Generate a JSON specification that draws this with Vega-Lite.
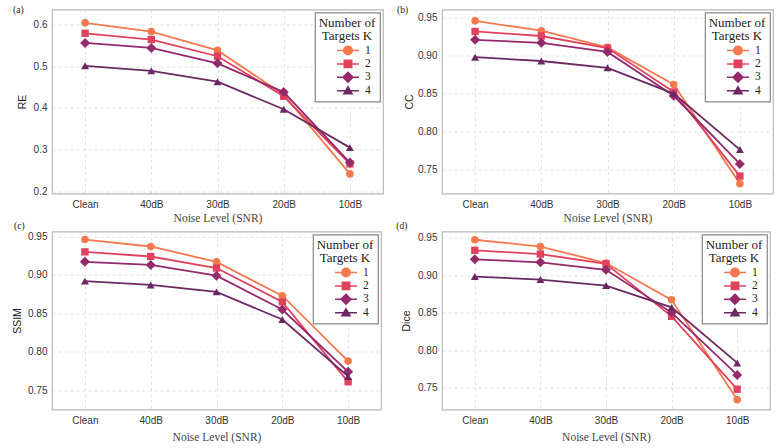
{
  "$schema": "https://vega.github.io/schema/vega-lite/v6.json",
  "background": "white",
  "padding": {"left": 12, "top": 3.5, "right": 4, "bottom": 2},
  "datasets": {
    "scores": [
      {"metric": "RE", "K": "1", "snr": "Clean", "value": 0.604},
      {"metric": "RE", "K": "1", "snr": "40dB", "value": 0.583},
      {"metric": "RE", "K": "1", "snr": "30dB", "value": 0.538},
      {"metric": "RE", "K": "1", "snr": "20dB", "value": 0.432},
      {"metric": "RE", "K": "1", "snr": "10dB", "value": 0.242},
      {"metric": "RE", "K": "2", "snr": "Clean", "value": 0.579},
      {"metric": "RE", "K": "2", "snr": "40dB", "value": 0.564},
      {"metric": "RE", "K": "2", "snr": "30dB", "value": 0.524},
      {"metric": "RE", "K": "2", "snr": "20dB", "value": 0.428},
      {"metric": "RE", "K": "2", "snr": "10dB", "value": 0.266},
      {"metric": "RE", "K": "3", "snr": "Clean", "value": 0.556},
      {"metric": "RE", "K": "3", "snr": "40dB", "value": 0.544},
      {"metric": "RE", "K": "3", "snr": "30dB", "value": 0.507},
      {"metric": "RE", "K": "3", "snr": "20dB", "value": 0.438},
      {"metric": "RE", "K": "3", "snr": "10dB", "value": 0.269},
      {"metric": "RE", "K": "4", "snr": "Clean", "value": 0.501},
      {"metric": "RE", "K": "4", "snr": "40dB", "value": 0.489},
      {"metric": "RE", "K": "4", "snr": "30dB", "value": 0.463},
      {"metric": "RE", "K": "4", "snr": "20dB", "value": 0.397},
      {"metric": "RE", "K": "4", "snr": "10dB", "value": 0.305},
      {"metric": "CC", "K": "1", "snr": "Clean", "value": 0.946},
      {"metric": "CC", "K": "1", "snr": "40dB", "value": 0.933},
      {"metric": "CC", "K": "1", "snr": "30dB", "value": 0.911},
      {"metric": "CC", "K": "1", "snr": "20dB", "value": 0.862},
      {"metric": "CC", "K": "1", "snr": "10dB", "value": 0.731},
      {"metric": "CC", "K": "2", "snr": "Clean", "value": 0.932},
      {"metric": "CC", "K": "2", "snr": "40dB", "value": 0.926},
      {"metric": "CC", "K": "2", "snr": "30dB", "value": 0.910},
      {"metric": "CC", "K": "2", "snr": "20dB", "value": 0.852},
      {"metric": "CC", "K": "2", "snr": "10dB", "value": 0.741},
      {"metric": "CC", "K": "3", "snr": "Clean", "value": 0.921},
      {"metric": "CC", "K": "3", "snr": "40dB", "value": 0.917},
      {"metric": "CC", "K": "3", "snr": "30dB", "value": 0.905},
      {"metric": "CC", "K": "3", "snr": "20dB", "value": 0.847},
      {"metric": "CC", "K": "3", "snr": "10dB", "value": 0.757},
      {"metric": "CC", "K": "4", "snr": "Clean", "value": 0.898},
      {"metric": "CC", "K": "4", "snr": "40dB", "value": 0.893},
      {"metric": "CC", "K": "4", "snr": "30dB", "value": 0.884},
      {"metric": "CC", "K": "4", "snr": "20dB", "value": 0.850},
      {"metric": "CC", "K": "4", "snr": "10dB", "value": 0.776},
      {"metric": "SSIM", "K": "1", "snr": "Clean", "value": 0.946},
      {"metric": "SSIM", "K": "1", "snr": "40dB", "value": 0.937},
      {"metric": "SSIM", "K": "1", "snr": "30dB", "value": 0.917},
      {"metric": "SSIM", "K": "1", "snr": "20dB", "value": 0.873},
      {"metric": "SSIM", "K": "1", "snr": "10dB", "value": 0.788},
      {"metric": "SSIM", "K": "2", "snr": "Clean", "value": 0.930},
      {"metric": "SSIM", "K": "2", "snr": "40dB", "value": 0.924},
      {"metric": "SSIM", "K": "2", "snr": "30dB", "value": 0.909},
      {"metric": "SSIM", "K": "2", "snr": "20dB", "value": 0.865},
      {"metric": "SSIM", "K": "2", "snr": "10dB", "value": 0.761},
      {"metric": "SSIM", "K": "3", "snr": "Clean", "value": 0.917},
      {"metric": "SSIM", "K": "3", "snr": "40dB", "value": 0.913},
      {"metric": "SSIM", "K": "3", "snr": "30dB", "value": 0.899},
      {"metric": "SSIM", "K": "3", "snr": "20dB", "value": 0.855},
      {"metric": "SSIM", "K": "3", "snr": "10dB", "value": 0.774},
      {"metric": "SSIM", "K": "4", "snr": "Clean", "value": 0.892},
      {"metric": "SSIM", "K": "4", "snr": "40dB", "value": 0.887},
      {"metric": "SSIM", "K": "4", "snr": "30dB", "value": 0.878},
      {"metric": "SSIM", "K": "4", "snr": "20dB", "value": 0.842},
      {"metric": "SSIM", "K": "4", "snr": "10dB", "value": 0.768},
      {"metric": "Dice", "K": "1", "snr": "Clean", "value": 0.947},
      {"metric": "Dice", "K": "1", "snr": "40dB", "value": 0.938},
      {"metric": "Dice", "K": "1", "snr": "30dB", "value": 0.916},
      {"metric": "Dice", "K": "1", "snr": "20dB", "value": 0.867},
      {"metric": "Dice", "K": "1", "snr": "10dB", "value": 0.734},
      {"metric": "Dice", "K": "2", "snr": "Clean", "value": 0.933},
      {"metric": "Dice", "K": "2", "snr": "40dB", "value": 0.928},
      {"metric": "Dice", "K": "2", "snr": "30dB", "value": 0.915},
      {"metric": "Dice", "K": "2", "snr": "20dB", "value": 0.845},
      {"metric": "Dice", "K": "2", "snr": "10dB", "value": 0.748},
      {"metric": "Dice", "K": "3", "snr": "Clean", "value": 0.921},
      {"metric": "Dice", "K": "3", "snr": "40dB", "value": 0.917},
      {"metric": "Dice", "K": "3", "snr": "30dB", "value": 0.907},
      {"metric": "Dice", "K": "3", "snr": "20dB", "value": 0.850},
      {"metric": "Dice", "K": "3", "snr": "10dB", "value": 0.767},
      {"metric": "Dice", "K": "4", "snr": "Clean", "value": 0.898},
      {"metric": "Dice", "K": "4", "snr": "40dB", "value": 0.894},
      {"metric": "Dice", "K": "4", "snr": "30dB", "value": 0.886},
      {"metric": "Dice", "K": "4", "snr": "20dB", "value": 0.857},
      {"metric": "Dice", "K": "4", "snr": "10dB", "value": 0.783}
    ]
  },
  "data": {"name": "scores"},
  "bounds": "flush",
  "columns": 2,
  "spacing": {"row": 38, "column": 59},
  "resolve": {"scale": {"fill": "independent", "stroke": "independent", "shape": "independent"}},
  "concat": [
    {
      "width": 331, "height": 184,
      "title": {"text": "(a)", "dx": -39, "dy": 9},
      "transform": [{"filter": "datum.metric === 'RE'"}],
      "encoding": {
        "x": {"field": "snr", "type": "ordinal", "scale": {"type": "point", "domain": ["Clean", "40dB", "30dB", "20dB", "10dB"], "padding": 0.5}, "axis": {"title": "Noise Level (SNR)", "titlePadding": 2.5}},
        "y": {"field": "value", "type": "quantitative", "scale": {"domain": [0.195, 0.636], "nice": false, "zero": false}, "axis": {"title": "RE", "values": [0.2, 0.3, 0.4, 0.5, 0.6], "format": ".1f", "titleX": -26.5}}
      },
      "layer": [
        {"transform": [{"filter": "datum.K === '1'"}], "layer": [
          {"mark": {"type": "line", "color": "#f4794e", "strokeWidth": 1.8}},
          {"mark": {"type": "point", "shape": "circle", "filled": true, "opacity": 1, "color": "#f4794e", "size": 57}}]},
        {"transform": [{"filter": "datum.K === '2'"}], "layer": [
          {"mark": {"type": "line", "color": "#e0425e", "strokeWidth": 1.8}},
          {"mark": {"type": "point", "shape": "square", "filled": true, "opacity": 1, "color": "#e0425e", "size": 54}}]},
        {"transform": [{"filter": "datum.K === '3'"}], "layer": [
          {"mark": {"type": "line", "color": "#94296b", "strokeWidth": 1.8}},
          {"mark": {"type": "point", "shape": "diamond", "filled": true, "opacity": 1, "color": "#94296b", "size": 100}}]},
        {"transform": [{"filter": "datum.K === '4'"}], "layer": [
          {"mark": {"type": "line", "color": "#6c2862", "strokeWidth": 1.8}},
          {"mark": {"type": "point", "shape": "triangle-up", "filled": true, "opacity": 1, "color": "#6c2862", "size": 64}}]},
        {"transform": [{"filter": "false"}],
         "mark": {"type": "point", "filled": true, "opacity": 1},
         "encoding": {
           "fill": {"field": "K", "type": "nominal", "scale": {"domain": ["1", "2", "3", "4"], "range": ["#f4794e", "#e0425e", "#94296b", "#6c2862"]}, "legend": {"title": ["Number of", "Targets K"], "orient": "top-right", "offset": 3}},
           "stroke": {"field": "K", "type": "nominal", "scale": {"domain": ["1", "2", "3", "4"], "range": ["#f4794e", "#e0425e", "#94296b", "#6c2862"]}, "legend": {"title": ["Number of", "Targets K"], "orient": "top-right", "offset": 3}},
           "shape": {"field": "K", "type": "nominal", "scale": {"domain": ["1", "2", "3", "4"], "range": ["M-2.2,0H2.2M0.85,0A0.85,0.85,0,1,1,-0.85,0A0.85,0.85,0,1,1,0.85,0Z", "M-2.2,0H2.2M-0.74,-0.74H0.74V0.74H-0.74Z", "M-2.2,0H2.2M-1,0L0,-1L1,0L0,1Z", "M-2.2,0H2.2M0,-0.78L0.82,0.62H-0.82Z"]}, "legend": {"title": ["Number of", "Targets K"], "orient": "top-right", "offset": 3}}
         }}
      ]
    },
    {
      "width": 331, "height": 184,
      "title": {"text": "(b)", "dx": -45, "dy": 9},
      "transform": [{"filter": "datum.metric === 'CC'"}],
      "encoding": {
        "x": {"field": "snr", "type": "ordinal", "scale": {"type": "point", "domain": ["Clean", "40dB", "30dB", "20dB", "10dB"], "padding": 0.5}, "axis": {"title": "Noise Level (SNR)", "titlePadding": 2.5}},
        "y": {"field": "value", "type": "quantitative", "scale": {"domain": [0.718, 0.961], "nice": false, "zero": false}, "axis": {"title": "CC", "values": [0.75, 0.8, 0.85, 0.9, 0.95], "format": ".2f", "titleX": -30}}
      },
      "layer": [
        {"transform": [{"filter": "datum.K === '1'"}], "layer": [
          {"mark": {"type": "line", "color": "#f4794e", "strokeWidth": 1.8}},
          {"mark": {"type": "point", "shape": "circle", "filled": true, "opacity": 1, "color": "#f4794e", "size": 57}}]},
        {"transform": [{"filter": "datum.K === '2'"}], "layer": [
          {"mark": {"type": "line", "color": "#e0425e", "strokeWidth": 1.8}},
          {"mark": {"type": "point", "shape": "square", "filled": true, "opacity": 1, "color": "#e0425e", "size": 54}}]},
        {"transform": [{"filter": "datum.K === '3'"}], "layer": [
          {"mark": {"type": "line", "color": "#94296b", "strokeWidth": 1.8}},
          {"mark": {"type": "point", "shape": "diamond", "filled": true, "opacity": 1, "color": "#94296b", "size": 100}}]},
        {"transform": [{"filter": "datum.K === '4'"}], "layer": [
          {"mark": {"type": "line", "color": "#6c2862", "strokeWidth": 1.8}},
          {"mark": {"type": "point", "shape": "triangle-up", "filled": true, "opacity": 1, "color": "#6c2862", "size": 64}}]},
        {"transform": [{"filter": "false"}],
         "mark": {"type": "point", "filled": true, "opacity": 1},
         "encoding": {
           "fill": {"field": "K", "type": "nominal", "scale": {"domain": ["1", "2", "3", "4"], "range": ["#f4794e", "#e0425e", "#94296b", "#6c2862"]}, "legend": {"title": ["Number of", "Targets K"], "orient": "top-right", "offset": 3}},
           "stroke": {"field": "K", "type": "nominal", "scale": {"domain": ["1", "2", "3", "4"], "range": ["#f4794e", "#e0425e", "#94296b", "#6c2862"]}, "legend": {"title": ["Number of", "Targets K"], "orient": "top-right", "offset": 3}},
           "shape": {"field": "K", "type": "nominal", "scale": {"domain": ["1", "2", "3", "4"], "range": ["M-2.2,0H2.2M0.85,0A0.85,0.85,0,1,1,-0.85,0A0.85,0.85,0,1,1,0.85,0Z", "M-2.2,0H2.2M-0.74,-0.74H0.74V0.74H-0.74Z", "M-2.2,0H2.2M-1,0L0,-1L1,0L0,1Z", "M-2.2,0H2.2M0,-0.78L0.82,0.62H-0.82Z"]}, "legend": {"title": ["Number of", "Targets K"], "orient": "top-right", "offset": 3}}
         }}
      ]
    },
    {
      "width": 329, "height": 178,
      "title": {"text": "(c)", "dx": -38, "dy": 3.3},
      "transform": [{"filter": "datum.metric === 'SSIM'"}],
      "encoding": {
        "x": {"field": "snr", "type": "ordinal", "scale": {"type": "point", "domain": ["Clean", "40dB", "30dB", "20dB", "10dB"], "padding": 0.5}, "axis": {"title": "Noise Level (SNR)", "titlePadding": 5.5}},
        "y": {"field": "value", "type": "quantitative", "scale": {"domain": [0.725, 0.9565], "nice": false, "zero": false}, "axis": {"title": "SSIM", "values": [0.75, 0.8, 0.85, 0.9, 0.95], "format": ".2f", "titleX": -31.3}}
      },
      "layer": [
        {"transform": [{"filter": "datum.K === '1'"}], "layer": [
          {"mark": {"type": "line", "color": "#f4794e", "strokeWidth": 1.8}},
          {"mark": {"type": "point", "shape": "circle", "filled": true, "opacity": 1, "color": "#f4794e", "size": 57}}]},
        {"transform": [{"filter": "datum.K === '2'"}], "layer": [
          {"mark": {"type": "line", "color": "#e0425e", "strokeWidth": 1.8}},
          {"mark": {"type": "point", "shape": "square", "filled": true, "opacity": 1, "color": "#e0425e", "size": 54}}]},
        {"transform": [{"filter": "datum.K === '3'"}], "layer": [
          {"mark": {"type": "line", "color": "#94296b", "strokeWidth": 1.8}},
          {"mark": {"type": "point", "shape": "diamond", "filled": true, "opacity": 1, "color": "#94296b", "size": 100}}]},
        {"transform": [{"filter": "datum.K === '4'"}], "layer": [
          {"mark": {"type": "line", "color": "#6c2862", "strokeWidth": 1.8}},
          {"mark": {"type": "point", "shape": "triangle-up", "filled": true, "opacity": 1, "color": "#6c2862", "size": 64}}]},
        {"transform": [{"filter": "false"}],
         "mark": {"type": "point", "filled": true, "opacity": 1},
         "encoding": {
           "fill": {"field": "K", "type": "nominal", "scale": {"domain": ["1", "2", "3", "4"], "range": ["#f4794e", "#e0425e", "#94296b", "#6c2862"]}, "legend": {"title": ["Number of", "Targets K"], "orient": "top-right", "offset": 3}},
           "stroke": {"field": "K", "type": "nominal", "scale": {"domain": ["1", "2", "3", "4"], "range": ["#f4794e", "#e0425e", "#94296b", "#6c2862"]}, "legend": {"title": ["Number of", "Targets K"], "orient": "top-right", "offset": 3}},
           "shape": {"field": "K", "type": "nominal", "scale": {"domain": ["1", "2", "3", "4"], "range": ["M-2.2,0H2.2M0.85,0A0.85,0.85,0,1,1,-0.85,0A0.85,0.85,0,1,1,0.85,0Z", "M-2.2,0H2.2M-0.74,-0.74H0.74V0.74H-0.74Z", "M-2.2,0H2.2M-1,0L0,-1L1,0L0,1Z", "M-2.2,0H2.2M0,-0.78L0.82,0.62H-0.82Z"]}, "legend": {"title": ["Number of", "Targets K"], "orient": "top-right", "offset": 3}}
         }}
      ]
    },
    {
      "width": 328, "height": 178,
      "title": {"text": "(d)", "dx": -45.7, "dy": 3},
      "transform": [{"filter": "datum.metric === 'Dice'"}],
      "encoding": {
        "x": {"field": "snr", "type": "ordinal", "scale": {"type": "point", "domain": ["Clean", "40dB", "30dB", "20dB", "10dB"], "padding": 0.5}, "axis": {"title": "Noise Level (SNR)", "titlePadding": 5.5}},
        "y": {"field": "value", "type": "quantitative", "scale": {"domain": [0.721, 0.958], "nice": false, "zero": false}, "axis": {"title": "Dice", "values": [0.75, 0.8, 0.85, 0.9, 0.95], "format": ".2f", "titleX": -32.3}}
      },
      "layer": [
        {"transform": [{"filter": "datum.K === '1'"}], "layer": [
          {"mark": {"type": "line", "color": "#f4794e", "strokeWidth": 1.8}},
          {"mark": {"type": "point", "shape": "circle", "filled": true, "opacity": 1, "color": "#f4794e", "size": 57}}]},
        {"transform": [{"filter": "datum.K === '2'"}], "layer": [
          {"mark": {"type": "line", "color": "#e0425e", "strokeWidth": 1.8}},
          {"mark": {"type": "point", "shape": "square", "filled": true, "opacity": 1, "color": "#e0425e", "size": 54}}]},
        {"transform": [{"filter": "datum.K === '3'"}], "layer": [
          {"mark": {"type": "line", "color": "#94296b", "strokeWidth": 1.8}},
          {"mark": {"type": "point", "shape": "diamond", "filled": true, "opacity": 1, "color": "#94296b", "size": 100}}]},
        {"transform": [{"filter": "datum.K === '4'"}], "layer": [
          {"mark": {"type": "line", "color": "#6c2862", "strokeWidth": 1.8}},
          {"mark": {"type": "point", "shape": "triangle-up", "filled": true, "opacity": 1, "color": "#6c2862", "size": 64}}]},
        {"transform": [{"filter": "false"}],
         "mark": {"type": "point", "filled": true, "opacity": 1},
         "encoding": {
           "fill": {"field": "K", "type": "nominal", "scale": {"domain": ["1", "2", "3", "4"], "range": ["#f4794e", "#e0425e", "#94296b", "#6c2862"]}, "legend": {"title": ["Number of", "Targets K"], "orient": "top-right", "offset": 3}},
           "stroke": {"field": "K", "type": "nominal", "scale": {"domain": ["1", "2", "3", "4"], "range": ["#f4794e", "#e0425e", "#94296b", "#6c2862"]}, "legend": {"title": ["Number of", "Targets K"], "orient": "top-right", "offset": 3}},
           "shape": {"field": "K", "type": "nominal", "scale": {"domain": ["1", "2", "3", "4"], "range": ["M-2.2,0H2.2M0.85,0A0.85,0.85,0,1,1,-0.85,0A0.85,0.85,0,1,1,0.85,0Z", "M-2.2,0H2.2M-0.74,-0.74H0.74V0.74H-0.74Z", "M-2.2,0H2.2M-1,0L0,-1L1,0L0,1Z", "M-2.2,0H2.2M0,-0.78L0.82,0.62H-0.82Z"]}, "legend": {"title": ["Number of", "Targets K"], "orient": "top-right", "offset": 3}}
         }}
      ]
    }
  ],
  "config": {
    "view": {"stroke": "#b8b8b8", "strokeWidth": 1.2},
    "title": {"anchor": "start", "frame": "group", "orient": "top", "offset": 0, "baseline": "middle", "font": "Liberation Serif", "fontSize": 9.5, "fontWeight": "normal", "color": "#222"},
    "axis": {
      "domain": false,
      "ticks": false,
      "grid": true,
      "gridColor": "#dcdcdc",
      "gridDash": [3, 3],
      "gridWidth": 0.8,
      "labelFont": "Liberation Sans",
      "labelFontSize": 10,
      "labelColor": "#333",
      "labelPadding": 5,
      "titleFontWeight": "normal",
      "titleColor": "#222"
    },
    "axisX": {"labelAngle": 0, "labelPadding": 6, "titleFont": "Liberation Serif", "titleFontSize": 11.5, "titleColor": "#444"},
    "axisY": {"titleFont": "Liberation Sans", "titleFontSize": 10.5, "titleBaseline": "alphabetic", "titleAngle": -90},
    "legend": {
      "titleFont": "Liberation Serif",
      "titleFontSize": 13,
      "titleFontWeight": "normal",
      "titleColor": "#222",
      "titleLineHeight": 13.5,
      "titleAnchor": "middle",
      "titleAlign": "center",
      "titlePadding": 1,
      "labelFont": "Liberation Serif",
      "labelFontSize": 11.5,
      "labelColor": "#222",
      "labelOffset": 11,
      "symbolOffset": 18,
      "symbolSize": 100,
      "symbolStrokeWidth": 1.5,
      "clipHeight": 13,
      "rowPadding": 0.4,
      "padding": 4,
      "strokeColor": "#888",
      "fillColor": "white",
      "strokeWidth": 1.2
    }
  }
}
